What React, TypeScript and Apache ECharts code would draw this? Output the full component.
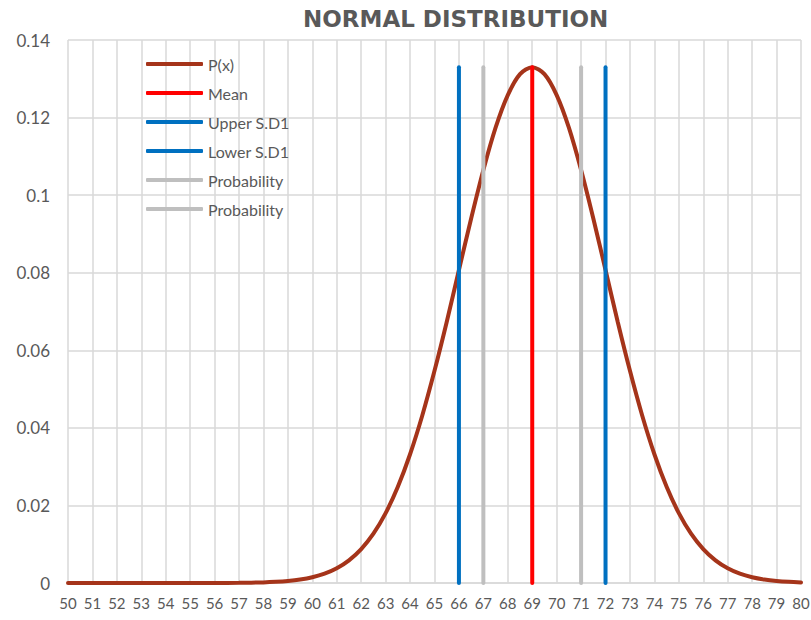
import React, { useEffect, useRef } from "react";
import * as echarts from "echarts";

// x positions on the horizontal axis
const xValues = [
  50, 51, 52, 53, 54, 55, 56, 57, 58, 58.5, 59, 59.5, 60, 60.5, 61, 61.5, 62,
  62.5, 63, 63.5, 64, 64.5, 65, 65.5, 66, 66.5, 67, 67.5, 68, 68.5, 69, 69.5,
  70, 70.5, 71, 71.5, 72, 72.5, 73, 73.5, 74, 74.5, 75, 75.5, 76, 76.5, 77,
  77.5, 78, 78.5, 79, 79.5, 80,
];
// density P(x) at each x
const pxValues = [
  0, 0, 0, 0.0000001, 0.0000005, 0.0000025, 0.0000111, 0.0000446, 0.00016,
  0.000291, 0.000514, 0.000884, 0.00148, 0.0024, 0.0038, 0.00584, 0.00874,
  0.0127, 0.018, 0.0248, 0.0332, 0.0432, 0.0547, 0.0673, 0.0807, 0.094,
  0.1065, 0.1174, 0.1258, 0.1312, 0.133, 0.1312, 0.1258, 0.1174, 0.1065,
  0.094, 0.0807, 0.0673, 0.0547, 0.0432, 0.0332, 0.0248, 0.018, 0.0127,
  0.00874, 0.00584, 0.0038, 0.0024, 0.00148, 0.000884, 0.000514, 0.000291,
  0.00016,
];
// markers
const meanX = 69;
const upperSD1X = 72;
const lowerSD1X = 66;
const probabilityLowX = 67;
const probabilityHighX = 71;
const markerTop = 0.133;
// y ticks
const yTicks = [0, 0.02, 0.04, 0.06, 0.08, 0.1, 0.12, 0.14];

const GRID = "#d9d9d9";
const TEXT = "#595959";
const FONT = "Lato, 'Noto Sans', sans-serif";

function vline(x: number) {
  return [
    [x, 0],
    [x, markerTop],
  ];
}

export default function App() {
  const ref = useRef<HTMLDivElement>(null);

  useEffect(() => {
    if (!ref.current) return;
    const chart = echarts.init(ref.current, null, { renderer: "svg" });

    const curve = xValues.map((x, i) => [x, pxValues[i]]);
    const lineSeries = (
      name: string,
      color: string,
      data: number[][],
      smooth: boolean | number = false
    ) => ({
      name,
      type: "line",
      data,
      smooth,
      showSymbol: false,
      symbol: "none",
      lineStyle: { color, width: 4, cap: "round" },
      itemStyle: { color },
    });

    chart.setOption({
      animation: false,
      backgroundColor: "#ffffff",
      title: {
        text: "NORMAL DISTRIBUTION",
        left: 298,
        top: 2,
        textStyle: {
          fontFamily: "'DejaVu Sans', sans-serif",
          fontWeight: "bold",
          fontSize: 23,
          color: TEXT,
        },
      },
      legend: {
        orient: "vertical",
        left: 141,
        top: 50,
        itemWidth: 57,
        itemHeight: 4,
        itemGap: 11,
        icon: "roundRect",
        formatter: (name: string) => name.trim(),
        textStyle: { color: TEXT, fontSize: 16, fontFamily: FONT, lineHeight: 18 },
        data: [
          "P(x)",
          "Mean",
          "Upper S.D1",
          "Lower S.D1",
          "Probability",
          "Probability ",
        ],
      },
      grid: {
        left: 68,
        right: 10,
        top: 40,
        bottom: 37,
        outerBoundsMode: "none",
      },
      xAxis: {
        type: "value",
        min: 50,
        max: 80,
        interval: 1,
        axisLine: { show: true, lineStyle: { color: GRID, width: 1.5 } },
        axisTick: { show: false },
        splitLine: { show: true, lineStyle: { color: GRID, width: 1.5 } },
        axisLabel: {
          color: TEXT,
          fontSize: 15,
          fontFamily: FONT,
          margin: 12,
          showMinLabel: true,
          showMaxLabel: true,
        },
      },
      yAxis: {
        type: "value",
        min: yTicks[0],
        max: yTicks[yTicks.length - 1],
        interval: 0.02,
        axisLine: { show: false },
        axisTick: { show: false },
        splitLine: { show: true, lineStyle: { color: GRID, width: 1.5 } },
        axisLabel: {
          color: TEXT,
          fontSize: 17,
          fontFamily: FONT,
          margin: 18,
          formatter: (v: number) => String(+v.toFixed(2)),
        },
      },
      series: [
        lineSeries("P(x)", "#a5341a", curve, 0.3),
        lineSeries("Mean", "#ff0000", vline(meanX)),
        lineSeries("Upper S.D1", "#0070c0", vline(upperSD1X)),
        lineSeries("Lower S.D1", "#0070c0", vline(lowerSD1X)),
        lineSeries("Probability", "#bfbfbf", vline(probabilityLowX)),
        lineSeries("Probability ", "#bfbfbf", vline(probabilityHighX)),
      ],
    });

    return () => chart.dispose();
  }, []);

  return (
    <div
      ref={ref}
      style={{ position: "fixed", left: 0, top: 0, width: 811, height: 620 }}
    />
  );
}
